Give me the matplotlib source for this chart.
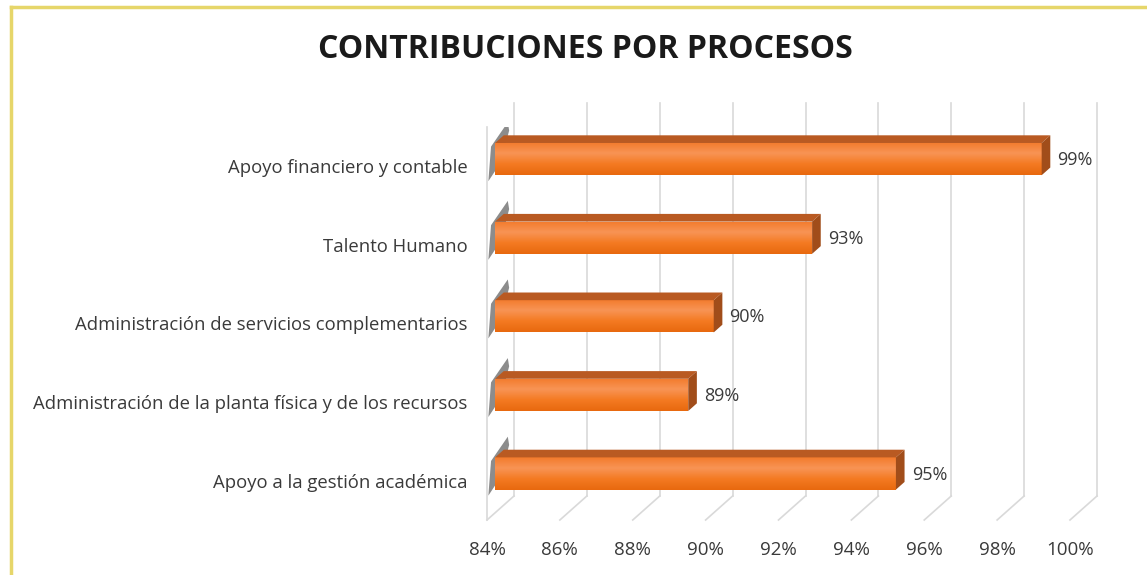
import numpy as np
import matplotlib
matplotlib.use("Agg")
import matplotlib.pyplot as plt
from matplotlib.patches import Polygon
from matplotlib.lines import Line2D
from matplotlib.colors import LinearSegmentedColormap

plt.rcParams['font.family'] = ['Open Sans', 'DejaVu Sans']

# data (bottom to top, as drawn)
procesos = ['Apoyo a la gestión académica',
            'Administración de la planta física y de los recursos',
            'Administración de servicios complementarios',
            'Talento Humano',
            'Apoyo financiero y contable']
valores = [0.950, 0.893, 0.900, 0.927, 0.990]
ticks = [0.84, 0.86, 0.88, 0.90, 0.92, 0.94, 0.96, 0.98, 1.00]

titulo = 'CONTRIBUCIONES POR PROCESOS'
txt_gris = '#3a3a3a'

fig = plt.figure(figsize=(11.47, 5.75), dpi=100)
ax = fig.add_axes([487 / 1147, 1 - 520 / 575, 583 / 1147, 393 / 575])
ax.set_xlim(0.84, 1.00)
ax.set_ylim(-0.5, 4.5)
for s in ax.spines.values():
    s.set_visible(False)

# depth vector of the 3d box, in pixels (right, up)
D = np.array([27.0, 24.0])


def shift(x, y, k):
    p = ax.transData.transform((x, y)) + k * D
    return ax.transData.inverted().transform(p)


grid_c = '#d9d9d9'
# back wall grid + floor diagonals
for t in ticks:
    a = shift(t, -0.5, 1.0)
    b = shift(t, 4.5, 1.0)
    ax.plot([a[0], b[0]], [a[1], b[1]], color=grid_c, lw=1.2, zorder=1, clip_on=False)
    ax.plot([t, a[0]], [-0.5, a[1]], color=grid_c, lw=1.2, zorder=1, clip_on=False)
# front edge of side wall
ax.plot([0.84, 0.84], [-0.5, 4.5], color=grid_c, lw=1.2, zorder=1, clip_on=False)

h = 0.41
k0, k1 = 0.3, 0.62
grad = LinearSegmentedColormap.from_list('nar', ['#e8690f', '#f47a22', '#f89455', '#f37b2c'])

for i, v in enumerate(valores):
    x0 = ticks[0]
    yb, yt = i - h / 2, i + h / 2
    # shadow on the side wall
    sw = [shift(x0, yb, 0.05), shift(x0, yt, 0.15), shift(x0, yt + 0.12, k1 + 0.15),
          shift(x0, yt, k1 + 0.2), shift(x0, yb + 0.1, k1 - 0.1)]
    ax.add_patch(Polygon(sw, closed=True, fc='#6f6f6f', ec='none', alpha=0.8, zorder=2))
    # front face with vertical gradient
    fb = shift(x0, yb, k0)
    ft = shift(v, yt, k0)
    front = Polygon([fb, (ft[0], fb[1]), ft, (fb[0], ft[1])], closed=True,
                    fc='none', ec='none', zorder=4)
    ax.add_patch(front)
    im = ax.imshow(np.linspace(0, 1, 50).reshape(-1, 1), cmap=grad, aspect='auto',
                   extent=(fb[0], ft[0], fb[1], ft[1]), origin='lower', zorder=4)
    im.set_clip_path(front)
    # top face
    top = [shift(x0, yt, k0), shift(v, yt, k0), shift(v, yt, k1), shift(x0, yt, k1)]
    ax.add_patch(Polygon(top, closed=True, fc='#b95a22', ec='none', zorder=5))
    # end face
    end = [shift(v, yb, k0), shift(v, yt, k0), shift(v, yt, k1), shift(v, yb, k1)]
    ax.add_patch(Polygon(end, closed=True, fc='#a14d1a', ec='none', zorder=5))
    # value label
    ax.annotate('{:.0%}'.format(v), xy=(v, i), xytext=(24, 6),
                textcoords='offset pixels', ha='left', va='center',
                fontsize=13, color=txt_gris, zorder=6)

ax.set_xticks(ticks)
ax.set_xticklabels(['{:.0%}'.format(t) for t in ticks], fontsize=13.5, color=txt_gris)
ax.set_yticks(range(len(procesos)))
ax.set_yticklabels(procesos, fontsize=13.3, color=txt_gris)
ax.tick_params(axis='x', length=0, pad=15)
ax.tick_params(axis='y', length=0, pad=14)
ax.set_xlim(0.84, 1.00)
ax.set_ylim(-0.5, 4.5)

fig.text(585 / 1147, 1 - 49 / 575, titulo, ha='center', va='center',
         fontsize=23, fontweight='bold', color='#1a1a1a')

# yellow frame of the chart area
fig.add_artist(Line2D([11 / 1147, 11 / 1147], [0, 1 - 7 / 575], color='#e6d66a', lw=2.5))
fig.add_artist(Line2D([11 / 1147, 1], [1 - 7 / 575, 1 - 7 / 575], color='#e6d66a', lw=2.5))

fig.savefig('out.png', dpi=100)
